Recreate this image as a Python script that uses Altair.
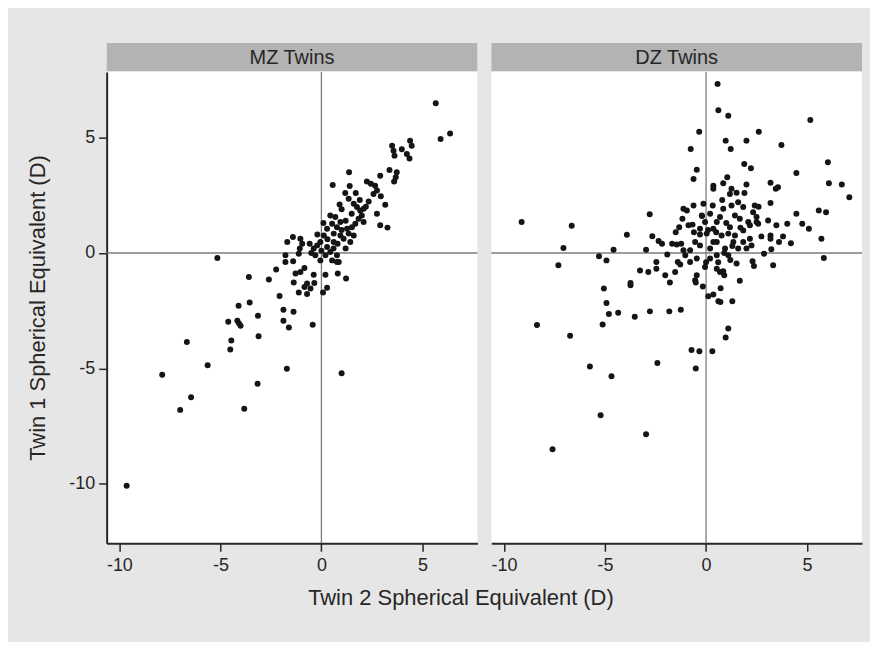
import altair as alt
import pandas as pd

# ---- MZ twins (Twin 2 SE on x, Twin 1 SE on y) ----
mz_x = [5.66, 5.9, 6.37,
        3.5, 3.57, 3.62, 3.98, 4.39, 4.47, 4.23, 4.36,
        3.37, 3.73, 3.68, 3.6, 2.91, 1.37, 0.56,
        2.25, 2.45, 2.66, 2.75, 2.58, 2.94,
        3.16, 2.34, 2.75, 2.91, 3.27,
        1.18, 1.35, 1.6, 1.76, 1.92, 2.09, 2.0, 1.84, 2.09, 1.68, 1.51, 1.27, 1.35, 1.6, 1.43, 1.1,
        0.94, 0.61, 0.77, 0.94, 0.69, 0.44, 0.53, 0.28, 0.12, -0.05, -0.21, -0.38, 0.28, 0.61, 0.44, 0.77,
        -1.41, -1.69, -1.04, -0.95, -1.07, -1.12, -0.58, -1.78, 0.2, -0.05, 0.53, 0.77,
        1.0, 1.5, 1.2, 0.9, 1.7, 0.3, 0.0, -0.3, 0.1, 1.9, 0.6, 1.2, -0.5, 1.4, 2.2, 0.8, -0.2, 1.0,
        -5.15, -3.59, -2.6, -2.24,
        -1.37, -1.12, -0.71, -0.35, -0.71, -0.84, -0.54, -1.78, -1.4, -1.28, -1.04, -0.84, -0.38,
        0.2, 0.28, 0.08, 0.81, 1.22, 0.86,
        -2.07, -4.1, -3.55, -3.14, -1.88, -1.38, -4.61, -4.16, -4.08, -4.0, -1.88, -1.61, -0.43,
        -3.11, -4.46, -4.51, -6.66, -5.63, -7.88, -6.45, -6.99, -3.82, -3.16, -1.71, 1.0, -9.64]
mz_y = [6.49, 4.94, 5.18,
        4.65, 4.43, 4.22, 4.5, 4.87, 4.65, 4.29, 4.1,
        3.6, 3.5, 3.28, 3.1, 3.35, 3.5, 2.95,
        3.1, 3.0, 2.92, 2.71, 2.56, 2.46,
        2.09, 2.23, 1.7, 1.2, 1.1,
        2.6, 2.35, 2.13, 1.99, 1.84, 1.92, 1.63, 1.48, 1.34, 1.27, 1.12, 1.05, 0.84, 0.76, 0.48, 0.62,
        0.76, 0.84, 1.12, 1.34, 1.56, 1.63, 1.27, 1.05, 0.76, 0.48, 0.33, 0.19, 0.26, 0.48, 0.04, -0.1,
        0.69, 0.48, 0.62, 0.4, 0.19, -0.03, 0.4, -0.1, -0.1, -0.32, -0.32, -0.39,
        1.9, 1.7, 1.4, 2.1, 2.6, 0.6, 0.1, -0.1, 1.3, 2.3, 0.2, 0.2, 0.0, 2.9, 2.0, 0.4, 0.8, 1.0,
        -0.22, -1.04, -1.15, -0.72,
        -1.28, -1.71, -1.78, -1.3, -1.32, -1.47, -1.54, -0.39, -0.36, -0.89, -0.82, -0.65, -0.94,
        -0.94, -1.51, -1.71, -0.89, -1.11, -0.39,
        -1.86, -2.29, -2.15, -2.72, -2.46, -2.55, -2.98, -2.94, -3.05, -3.15, -2.94, -3.23, -3.11,
        -3.61, -3.79, -4.18, -3.86, -4.87, -5.28, -6.25, -6.8, -6.75, -5.67, -5.02, -5.21, -10.09]

# ---- DZ twins ----
dz_x = [0.57, 0.61, 1.1, -0.34, 5.16, 2.61, 0.97, 2.0, 1.22, 3.73, -0.76, -0.46, -0.62, 1.89, 2.22,
        6.03, 4.47, 6.08, 6.72, 7.09, 0.36, 0.36, 0.85, 1.05, 1.26, 1.51, 1.18, 2.0, 3.19, 3.45, 3.56,
        3.19, 5.58, 5.94, 4.47, 4.76, 5.09, 4.02, 3.48, 3.07, 2.5, 2.58, 3.81, 3.61, 3.19, 3.19, 2.74,
        4.2, 5.71, 5.83, 2.87, 3.23, 3.32, 1.51, 1.67, 2.3, 2.37,
        -9.13, -6.65, -7.06, -7.31, -3.92, -2.79, -4.58, -5.3, -4.93, -2.97, -2.66, -2.35, -2.18,
        -1.92, -2.46, -2.46, -3.27, -2.86, -2.02, -1.53, -1.68, -1.45, -1.23, -1.33, -1.12, -1.17,
        -0.95, -0.87, -0.67, -0.62, -0.13, 0.33, -1.12, -1.03, -0.79, -0.54, -0.3, -0.46, -0.79,
        -1.4, -1.28, -0.46, -0.54,
        -0.21, -0.05, -0.3, 0.03, 0.36, 0.53, 0.69, 0.85, 1.26, 1.59, 1.84, 2.41, 2.33, 2.09, 1.67,
        1.43, 1.18, 1.43, 1.35, 1.1, 0.77, 0.53, 0.2, 0.53, 0.2, 0.53, 0.69, 0.9, 0.36, 0.94, 1.1,
        1.59, 1.84, 2.17, 2.25, 1.84, 2.17, 2.5,
        -8.37, -6.73, -5.75, -4.68, -5.22, -7.6, -2.97, -2.41, -5.06, -4.93, -4.81, -5.12, -4.35,
        -3.74, -3.74, -3.53, -2.78, -1.82, -1.25, -1.79, -0.51, -0.16, 0.11, 0.36, 0.72, 0.61, 0.71,
        1.3, 1.1, 0.97, -0.72, -0.33, 0.31, -0.51, -0.05, 0.85,
        0.1, 0.5, 1.0, 1.3, 0.2, -0.3, 0.8, 1.7, 2.0, -0.6, 0.9, 1.2, 0.0, -0.2, 2.6, 1.9, -1.5, 0.6]
dz_y = [7.33, 6.19, 5.95, 5.26, 5.76, 5.26, 4.87, 4.87, 4.51, 4.68, 4.51, 3.61, 3.21, 3.86, 3.67,
        3.93, 3.47, 3.02, 2.97, 2.42, 2.92, 2.78, 3.02, 3.28, 2.78, 2.61, 2.56, 2.97, 3.04, 2.78, 2.85,
        2.17, 1.84, 1.77, 1.7, 1.27, 1.05, 1.27, 1.2, 1.41, 1.56, 1.27, 0.72, 0.48, 0.76, 0.62, 0.72,
        0.42, 0.62, -0.22, -0.03, 0.16, -0.53, -0.46, -1.2, -0.36, -0.56,
        1.34, 1.18, 0.22, -0.53, 0.79, 1.68, 0.14, -0.14, -0.32, 0.14, 0.73, 0.52, 0.4,
        -0.07, -0.39, -0.68, -0.76, -0.82, -0.96, -0.82, 0.4, 0.37, 0.4, 1.12, 1.92, 1.48,
        1.84, 1.2, 1.23, 2.06, 2.13, 2.06, 0.12, -0.1, 0.12, 0.48, 0.33, -0.24, -0.39,
        -0.39, -0.5, -0.96, -1.18,
        1.63, 1.34, 1.05, 0.84, 1.05, 1.34, 1.56, 1.92, 2.06, 2.2, 1.99, 2.06, 1.77, 1.34, 1.48,
        1.63, 1.12, 0.76, 0.48, 0.84, 0.76, 0.48, 0.19, -0.1, -0.24, -0.68, -0.82, -0.96, 0.48, 0.19, -0.1,
        0.19, 0.48, 0.62, 0.33, 0.98, 1.2, 1.34,
        -3.12, -3.59, -4.92, -5.34, -7.03, -8.51, -7.86, -4.77, -1.54, -2.17, -2.64, -3.1, -2.59,
        -1.3, -1.4, -2.76, -2.53, -2.53, -2.46, -1.28, -1.28, -1.45, -1.87, -1.8, -1.53, -2.09, -2.12,
        -2.09, -3.27, -3.66, -4.2, -4.26, -4.26, -5.01, -0.61, -0.79,
        1.0, 0.9, 1.3, 0.3, 1.7, 0.8, 2.3, 1.1, 0.2, 0.9, 0.0, -0.3, -0.4, 1.6, 2.0, 2.6, 0.9, -0.4]

panel_labels = ["MZ Twins", "DZ Twins"]
x_title = "Twin 2 Spherical Equivalent (D)"
y_title = "Twin 1 Spherical Equivalent (D)"
x_ticks = [-10, -5, 0, 5]
y_ticks = [-10, -5, 0, 5]
x_domain = [-10.63, 7.72]
y_domain = [-12.58, 7.85]

W, H, HH = 372, 473, 28
FONT = "Liberation Sans"
INK = "#262626"


def plot_panel(xs, ys, first):
    df = pd.DataFrame({"x": xs, "y": ys})
    zero = pd.DataFrame({"v": [0]})
    xs_ = alt.Scale(domain=x_domain, nice=False, zero=False)
    ys_ = alt.Scale(domain=y_domain, nice=False, zero=False)
    xkw = dict(values=x_ticks, labelExpr="'' + datum.value", labelFlush=False,
               labelPadding=5, grid=False)
    if first:
        xkw.update(title=x_title, titleX=355, titleY=54, titleBaseline="middle")
    else:
        xkw.update(title=None)
    xaxis = alt.Axis(**xkw)
    if first:
        yaxis = alt.Axis(values=y_ticks, labelExpr="'' + datum.value", labelFlush=False,
                         labelPadding=4, grid=False, title=y_title,
                         titleX=-57.5, titleY=H / 2)
    else:
        yaxis = None

    vrule = alt.Chart(zero).mark_rule(color="#7c7c7c", strokeWidth=1.3).encode(
        x=alt.X("v:Q", scale=xs_, axis=xaxis))
    hrule = alt.Chart(zero).mark_rule(color="#7c7c7c", strokeWidth=1.3).encode(
        y=alt.Y("v:Q", scale=ys_, axis=yaxis))
    pts = alt.Chart(df).mark_circle(size=36, color="#151515", opacity=1).encode(
        x=alt.X("x:Q", scale=xs_, axis=xaxis),
        y=alt.Y("y:Q", scale=ys_, axis=yaxis))
    return alt.layer(vrule, hrule, pts).properties(width=W, height=H)


def header_panel(label):
    hdr = pd.DataFrame({"label": [label]})
    rect = alt.Chart(hdr).mark_rect(color="#b3b3b3").encode(
        x=alt.value(0), x2=alt.value(W), y=alt.value(0), y2=alt.value(HH))
    txt = alt.Chart(hdr).mark_text(font=FONT, fontSize=20, color=INK).encode(
        x=alt.value(W / 2), y=alt.value(HH / 2 + 1), text="label:N")
    return alt.layer(rect, txt).properties(width=W, height=HH)


headers = alt.hconcat(header_panel(panel_labels[0]), header_panel(panel_labels[1]),
                      spacing=14, bounds="flush")
plots = alt.hconcat(plot_panel(mz_x, mz_y, True), plot_panel(dz_x, dz_y, False),
                    spacing=14, bounds="flush")

chart = alt.vconcat(headers, plots, spacing=0).configure(
    background="#e6e6e6",
    padding={"left": 18, "top": 34, "right": 7, "bottom": 33},
).configure_view(
    stroke=None, fill="white"
).configure_axis(
    domainColor=INK, domainWidth=2, tickColor=INK, tickWidth=1.5, tickSize=8,
    labelFont=FONT, labelFontSize=18, labelColor=INK,
    titleFont=FONT, titleFontSize=22, titleColor=INK, titleFontWeight="normal",
)

chart.save("out.html", embed_options={"renderer": "svg", "actions": False})
